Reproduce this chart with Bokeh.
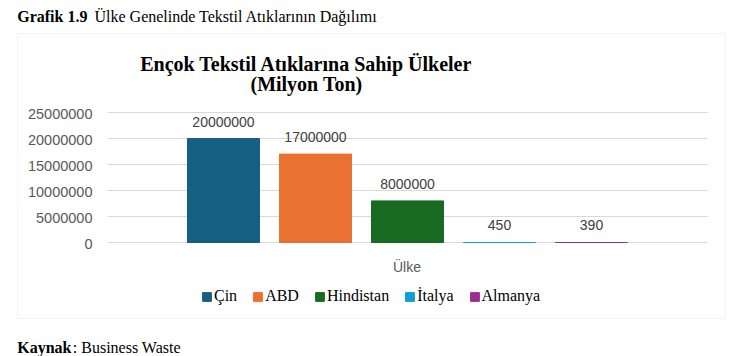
from bokeh.plotting import figure
from bokeh.models import ColumnDataSource, Range1d, Label, BoxAnnotation, Legend, LegendItem
from bokeh.core.properties import value
from bokeh.embed import file_html
from bokeh.resources import INLINE

# ---- data ----
countries = ["Çin", "ABD", "Hindistan", "İtalya", "Almanya"]
waste = [20000000, 17000000, 8000000, 450, 390]
colors = ["#156082", "#E97132", "#196B24", "#0F9ED5", "#A02B93"]
y_ticks = [0, 5000000, 10000000, 15000000, 20000000, 25000000]
y_tick_labels = ["0", "5000000", "10000000", "15000000", "20000000", "25000000"]

caption_bold = "Grafik 1.9"
caption_text = "Ülke Genelinde Tekstil Atıklarının Dağılımı"
title_line1 = "Ençok Tekstil Atıklarına Sahip Ülkeler"
title_line2 = "(Milyon Ton)"
x_title = "Ülke"
source_bold = "Kaynak"
source_text = ": Business Waste"

# ---- layout (pixels) ----
W, H = 730, 356
px_left, px_right = 107, 707      # plot area horizontal extent
px_zero, px_top = 242, 112        # pixel rows of y=0 and y=max tick
x_lo, x_hi = -1.2609, 5.2609      # category-space extent of the plot area
y_max = y_ticks[-1]

xs = (x_hi - x_lo) / (px_right - px_left)
ys = y_max / (px_zero - px_top)
x_range = Range1d(x_lo - px_left * xs, x_hi + (W - px_right) * xs)
y_range = Range1d(-(H - px_zero) * ys, y_max + px_top * ys)

src = ColumnDataSource(dict(
    x=list(range(len(countries))),
    value=waste,
    country=countries,
    color=colors,
    label=[str(v) for v in waste],
))
tick_src = ColumnDataSource(dict(
    y=y_ticks, label=y_tick_labels,
    x0=[x_lo] * len(y_ticks), x1=[x_hi] * len(y_ticks),
))

p = figure(width=W, height=H, output_backend="svg", toolbar_location=None,
           x_range=x_range, y_range=y_range,
           min_border=0, min_border_left=0, min_border_right=0,
           min_border_top=0, min_border_bottom=0)
p.axis.visible = False
p.grid.visible = False
p.outline_line_color = None
p.background_fill_color = "white"
p.border_fill_color = "white"

# chart area border
p.add_layout(BoxAnnotation(left=17, right=725, top=H - 33, bottom=H - 318,
                           left_units="screen", right_units="screen",
                           top_units="screen", bottom_units="screen",
                           fill_alpha=0, line_color="#d9d9d9", line_width=1, level="underlay"))

# gridlines and tick labels
p.segment(x0="x0", x1="x1", y0="y", y1="y", source=tick_src, line_color="#d9d9d9", line_width=1)
p.text(x="x0", y="y", text="label", source=tick_src, x_offset=-15, y_offset=1,
       text_align="right", text_baseline="middle",
       text_font=value("Liberation Sans"), text_font_size=value("14.5px"), text_color="#595959")

# bars
bars = p.vbar(x="x", top="value", width=0.7826, fill_color="color", line_color="color",
              line_width=1, source=src)

# data labels
p.text(x="x", y="value", text="label", source=src, text_align="center", text_baseline="middle",
       y_offset=-17, text_font=value("Liberation Sans"), text_font_size=value("14px"),
       text_color="#404040")

items = [LegendItem(label=c, renderers=[bars], index=i) for i, c in enumerate(countries)]
lg = Legend(items=items, orientation="horizontal", location=(201, 51),
            glyph_width=11, glyph_height=11, label_standoff=2, spacing=15,
            padding=0, margin=0, border_line_alpha=0, background_fill_alpha=0,
            label_text_font="Liberation Serif", label_text_font_size="16px",
            label_text_font_style="normal", label_text_color="black")
p.add_layout(lg)

def lab(text, x, y, font="Liberation Serif", size="16px", style="normal", color="black", align="left"):
    p.add_layout(Label(x=x, y=H - y, x_units="screen", y_units="screen", text=text,
                       text_font=font, text_font_size=size, text_font_style=style,
                       text_color=color, text_align=align, text_baseline="alphabetic"))

lab(caption_bold, 16.7, 16, style="bold")
lab(caption_text, 94, 16)
lab(title_line1, 306, 63, size="20px", style="bold", align="center")
lab(title_line2, 306, 83, size="20px", style="bold", align="center")
lab(x_title, 406.5, 266, font="Liberation Sans", size="14px", color="#595959", align="center")
lab(source_bold, 16.7, 347, style="bold")
lab(source_text, 72.3, 347)

open("out.html", "w").write(file_html(p, INLINE))
